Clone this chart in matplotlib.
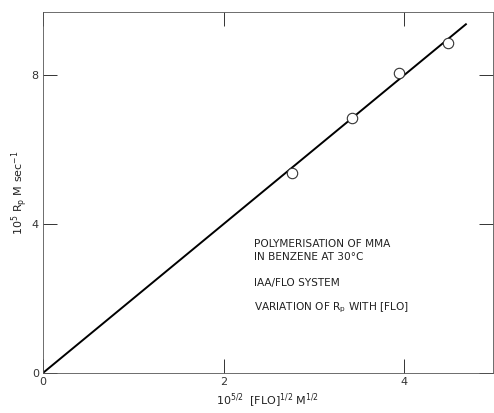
import matplotlib.pyplot as plt

# data
flo_x = [2.76, 3.42, 3.94, 4.48]
rate_y = [5.36, 6.84, 8.06, 8.87]

fit_x = [0.0, 4.68]
fit_y = [0.0, 9.37]

x_ticks = [0, 2, 4]
y_ticks = [0, 4, 8]

fig = plt.figure(figsize=(4.94, 4.13), dpi=100)
ax = fig.add_axes([0.087, 0.097, 0.911, 0.874])

ax.plot(fit_x, fit_y, color="black", linewidth=1.4)
ax.plot(flo_x, rate_y, linestyle="none", marker="o", markersize=7.5,
        markerfacecolor="white", markeredgecolor="#333333", markeredgewidth=0.8)

ax.set_xlim(0, 4.98)
ax.set_ylim(0, 9.7)
ax.set_xticks(x_ticks)
ax.set_yticks(y_ticks)
ax.tick_params(direction="in", length=10, width=0.7, colors="#333333",
               labelsize=8, top=True, right=True, pad=3)
for s in ax.spines.values():
    s.set_linewidth(0.6)
    s.set_color("#555555")

ax.set_xlabel(r"$\mathregular{10^{5/2}}$  [FLO]$\mathregular{^{1/2}}$ M$\mathregular{^{1/2}}$",
              fontsize=8, color="#222222", labelpad=3)
ax.set_ylabel(r"$\mathregular{10^5\ R_p\ M\ sec^{-1}}$", fontsize=8,
              color="#222222", labelpad=1)

txt = dict(fontsize=7.6, color="#222222", va="center")
ax.text(2.33, 3.47, "POLYMERISATION OF MMA", **txt)
ax.text(2.33, 3.12, "IN BENZENE AT 30°C", **txt)
ax.text(2.33, 2.42, "IAA/FLO SYSTEM", **txt)
ax.text(2.33, 1.75, r"VARIATION OF $\mathregular{R_p}$ WITH [FLO]", **txt)

fig.savefig("out.png", dpi=100)
